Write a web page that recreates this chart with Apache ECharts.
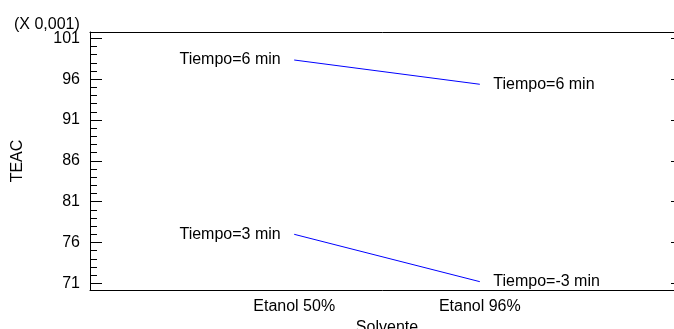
<!DOCTYPE html>
<html>
<head>
<meta charset="utf-8">
<script src="https://cdn.jsdelivr.net/npm/echarts@6/dist/echarts.min.js"></script>
<style>
  html, body { margin: 0; padding: 0; background: #fff; }
  #chart { width: 674px; height: 329px; }
</style>
</head>
<body>
<div id="chart"></div>
<script>
// solvent categories and where they sit on the x scale
const categories = ['Etanol 50%', 'Etanol 96%'];
const catPos = [1, 2];
// TEAC values (X 0,001)
const tiempo6 = [98.34, 95.37];
const tiempo3 = [77.0, 71.2];
const labels6 = ['Tiempo=6 min', 'Tiempo=6 min'];
const labels3 = ['Tiempo=3 min', 'Tiempo=-3 min'];
// y ticks
const majorTicks = [71, 76, 81, 86, 91, 96, 101];
const minorTicks = [];
for (let v = 71; v <= 101; v++) if (!majorTicks.includes(v)) minorTicks.push(v);

const font = 'Liberation Sans, Arial, sans-serif';
const yMin = 70.18, yMax = 101.77;

function makeSeries (name, values, texts) {
  return {
    name: name,
    type: 'line',
    symbol: 'circle',
    symbolSize: 1,
    itemStyle: { color: 'rgba(0,0,255,0)' },
    lineStyle: { color: '#0000ff', width: 1 },
    silent: true,
    data: values.map((v, i) => ({
      value: [catPos[i], v],
      label: {
        show: true,
        position: i === 0 ? 'left' : 'right',
        distance: 13,
        formatter: texts[i],
        color: '#000',
        fontSize: 16,
        fontFamily: font,
      },
    })),
  };
}

const chart = echarts.init(document.getElementById('chart'));
chart.setOption({
  animation: false,
  grid: { left: 90, right: -10, top: 32, bottom: 39, containLabel: false, outerBoundsMode: 'none' },
  graphic: [{
    type: 'text', left: 14, top: 17,
    style: { text: '(X 0,001)', fontSize: 16, fontFamily: font, fill: '#000' },
  }],
  xAxis: [
    {
      type: 'value', min: -0.1, max: 3.1, position: 'bottom',
      axisLine: { show: true, onZero: false, lineStyle: { color: '#000', width: 1 } },
      axisTick: { show: false },
      splitLine: { show: false },
      axisLabel: {
        customValues: catPos,
        formatter: (v) => categories[catPos.indexOf(v)],
        color: '#000', fontSize: 16, fontFamily: font, margin: 9,
      },
      name: 'Solvente', nameLocation: 'middle', nameGap: 26,
      nameTextStyle: { color: '#000', fontSize: 16, fontFamily: font },
    },
    {
      type: 'value', min: -0.1, max: 3.1, position: 'top',
      axisLine: { show: true, onZero: false, lineStyle: { color: '#000', width: 1 } },
      axisTick: { show: false },
      axisLabel: { show: false },
      splitLine: { show: false },
    },
  ],
  yAxis: [
    {
      type: 'value', min: yMin, max: yMax, position: 'left',
      axisLine: { show: true, onZero: false, lineStyle: { color: '#000', width: 1 } },
      axisTick: { show: true, inside: true, length: 12, customValues: majorTicks, lineStyle: { color: '#000' } },
      axisLabel: {
        customValues: majorTicks,
        color: '#000', fontSize: 16, fontFamily: font, margin: 10,
      },
      splitLine: { show: false },
      name: 'TEAC', nameLocation: 'middle', nameGap: 64, nameRotate: 90,
      nameTextStyle: { color: '#000', fontSize: 16, fontFamily: font },
    },
    {
      type: 'value', min: yMin, max: yMax, position: 'left',
      axisLine: { show: false, onZero: false },
      axisTick: { show: true, inside: true, length: 7, customValues: minorTicks, lineStyle: { color: '#000' } },
      axisLabel: { show: false },
      splitLine: { show: false },
    },
    {
      type: 'value', min: yMin, max: yMax, position: 'right',
      axisLine: { show: false, onZero: false },
      axisTick: { show: true, inside: true, length: 13, customValues: majorTicks, lineStyle: { color: '#000' } },
      axisLabel: { show: false },
      splitLine: { show: false },
    },
  ],
  series: [
    makeSeries('Tiempo=6 min', tiempo6, labels6),
    makeSeries('Tiempo=3 min', tiempo3, labels3),
  ],
});
</script>
</body>
</html>
